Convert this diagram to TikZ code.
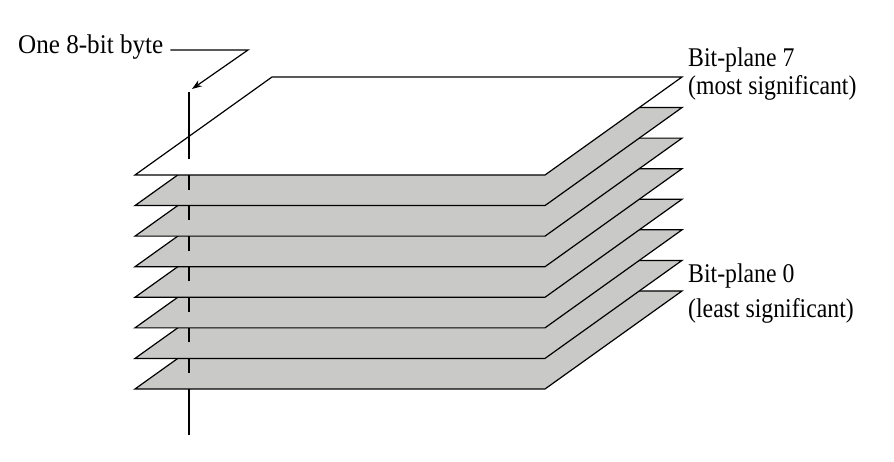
\documentclass[tikz,border=0pt]{standalone}
\usepackage{fontspec}
\setmainfont{Liberation Serif}
\usetikzlibrary{arrows.meta}
\definecolor{planegray}{RGB}{201,201,199}
\begin{document}
\begin{tikzpicture}[x=1pt,y=-1pt,
  plane/.style={draw=black, line width=1.2pt, line join=miter},
  byteline/.style={draw=black, line width=1.2pt},
  lbl/.style={font=\fontsize{27}{30}\selectfont, inner sep=0pt},
  pointer/.style={draw=black, line width=1.2pt, -{Stealth[length=10pt,width=7pt]}}]
\useasboundingbox (0,0) rectangle (894,462);
% segment below the stack
\draw[byteline] (189,435) -- (189,373);
% gray planes, bottom (plane 0) to plane 6
\foreach \k in {7,6,5,4,3,2,1} {
  \pgfmathsetmacro\yf{175+\k*30.57}
  \filldraw[plane, fill=planegray] (135,\yf) -- (545,\yf) -- (682,\yf-98) -- (272,\yf-98) -- cycle;
  \draw[byteline] (189,\yf-16) -- (189,\yf-30.57-16);
}
% top plane (bit-plane 7)
\filldraw[plane, fill=white] (135,175) -- (545,175) -- (682,77) -- (272,77) -- cycle;
\draw[byteline] (189,159) -- (189,92);
% labels
\node[lbl, anchor=base west] (byte) at (18,54) {\scalebox{0.93}[1]{One 8-bit byte}};
\node[lbl, anchor=base west] (bp7) at (688,67) {\scalebox{0.88}[1]{Bit-plane 7}};
\node[lbl, anchor=base west] (bp7b) at (688,95) {\scalebox{0.88}[1]{(most significant)}};
\node[lbl, anchor=base west] (bp0) at (688,283) {\scalebox{0.88}[1]{Bit-plane 0}};
\node[lbl, anchor=base west] (bp0b) at (688,317) {\scalebox{0.88}[1]{(least significant)}};
% pointer
\coordinate (bend) at (248,50);
\coordinate (tip) at (192,89);
\draw[pointer] ([xshift=7pt]byte.east |- bend) -- (bend) -- (tip);
\end{tikzpicture}
\end{document}
